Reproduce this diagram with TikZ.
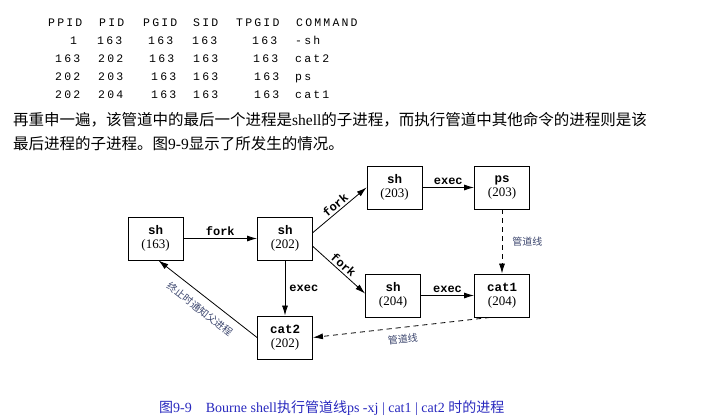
\documentclass[tikz,border=0pt]{standalone}
\usepackage{fontspec}
\setmainfont{Liberation Serif}
\setmonofont{Liberation Mono}
\newfontfamily\cjk{Noto Sans CJK SC}
\newfontfamily\tblfont[LetterSpace=19]{Liberation Mono}
\usetikzlibrary{arrows.meta}
\definecolor{labelgray}{RGB}{60,70,110}
\definecolor{capblue}{RGB}{40,40,190}
\newcommand\mono[1]{{\ttfamily\bfseries\fontsize{12.5}{14}\selectfont #1}}

\begin{document}
\begin{tikzpicture}[x=1pt,y=-1pt,
  box/.style={draw, line width=0.9pt, minimum width=55pt, minimum height=43pt,
    inner sep=0pt, align=center, font=\fontsize{13}{14}\selectfont},
  arr/.style={line width=0.8pt, -{Latex[length=10pt,width=6pt]}},
  pipe/.style={arr, dash pattern=on 5pt off 4pt},
  lbl/.style={font=\ttfamily\bfseries\fontsize{12}{13}\selectfont, inner sep=2pt},
  cn/.style={font=\cjk\fontsize{10}{12}\selectfont, text=labelgray, inner sep=2pt},
  tbl/.style={font=\tblfont\fontsize{11.5}{13}\selectfont, anchor=base west, inner sep=0pt},
  para/.style={font=\fontsize{15.5}{18}\selectfont, anchor=base west, inner sep=0pt}]
\useasboundingbox (0,0) rectangle (725,415);

% process table
\foreach \x/\y/\t [count=\i] in {
  48/26.5/PPID, 99/26.5/PID, 143/26.5/PGID, 193/26.5/SID, 236/26.5/TPGID, 296/26.5/COMMAND,
  70/44.5/1, 97/44.5/163, 148/44.5/163, 192/44.5/163, 252/44.5/163, 295/44.5/-sh,
  55/62/163, 98/62/202, 149/62/163, 193/62/163, 253/62/163, 295/62/cat2,
  55/80.5/202, 98/80.5/203, 151/80.5/163, 193/80.5/163, 254/80.5/163, 295/80.5/ps,
  55/98/202, 98/98/204, 151/98/163, 193/98/163, 254/98/163, 295/98/cat1}
  \node[tbl] (cell\i) at (\x,\y) {\t};

% paragraph
\node[para] (line1) at (13,125.5)
  {{\cjk 再重申一遍，该管道中的最后一个进程是}shell{\cjk 的子进程，而执行管道中其他命令的进程则是该}};
\node[para] (line2) at (13,149)
  {{\cjk 最后进程的子进程。图}9-9{\cjk 显示了所发生的情况。}};

% process boxes
\node[box] (p163)  at (155.5,238.5) {\mono{sh}\\(163)};
\node[box] (p202)  at (285,238.5)   {\mono{sh}\\(202)};
\node[box] (p203)  at (394.5,187.5) {\mono{sh}\\(203)};
\node[box] (ps203) at (502,187.5)   {\mono{ps}\\(203)};
\node[box] (s204)  at (393,295.5)   {\mono{sh}\\(204)};
\node[box] (c1)    at (502,295.5)   {\mono{cat1}\\(204)};
\node[box] (c2)    at (285,337.5)   {\mono{cat2}\\(202)};

% fork / exec
\draw[arr] (p163) -- node[lbl, above] {fork} (p202);
\draw[arr] ([yshift=6pt]p202.east) -- node[lbl, above, sloped] {fork} (p203.west);
\draw[arr] ([yshift=-8pt]p202.east) -- node[lbl, above, sloped] {fork} ([yshift=2pt]s204.west);
\draw[arr] (p203) -- node[lbl, above] {exec} (ps203);
\draw[arr] (s204) -- node[lbl, above] {exec} (c1);
\draw[arr] (p202) -- node[lbl, right, xshift=2pt] {exec} (c2);

% pipes
\draw[pipe] (ps203) -- node[cn, right, xshift=8pt] {管道线} (c1);
\draw[pipe] ([xshift=-12pt]c1.south) -- node[cn, below=5pt, sloped] {管道线} (c2.east);

% termination notice
\draw[arr] (c2.west) -- node[cn, below=6pt, sloped] {终止时通知父进程} ([xshift=3pt]p163.south);

% caption
\node[font=\fontsize{14}{16}\selectfont, text=capblue, anchor=base west, inner sep=0pt] (caption) at (159,412)
  {{\cjk 图}9-9\quad Bourne shell{\cjk 执行管道线}ps -xj | cat1 | cat2 {\cjk 时的进程}};
\end{tikzpicture}
\end{document}
